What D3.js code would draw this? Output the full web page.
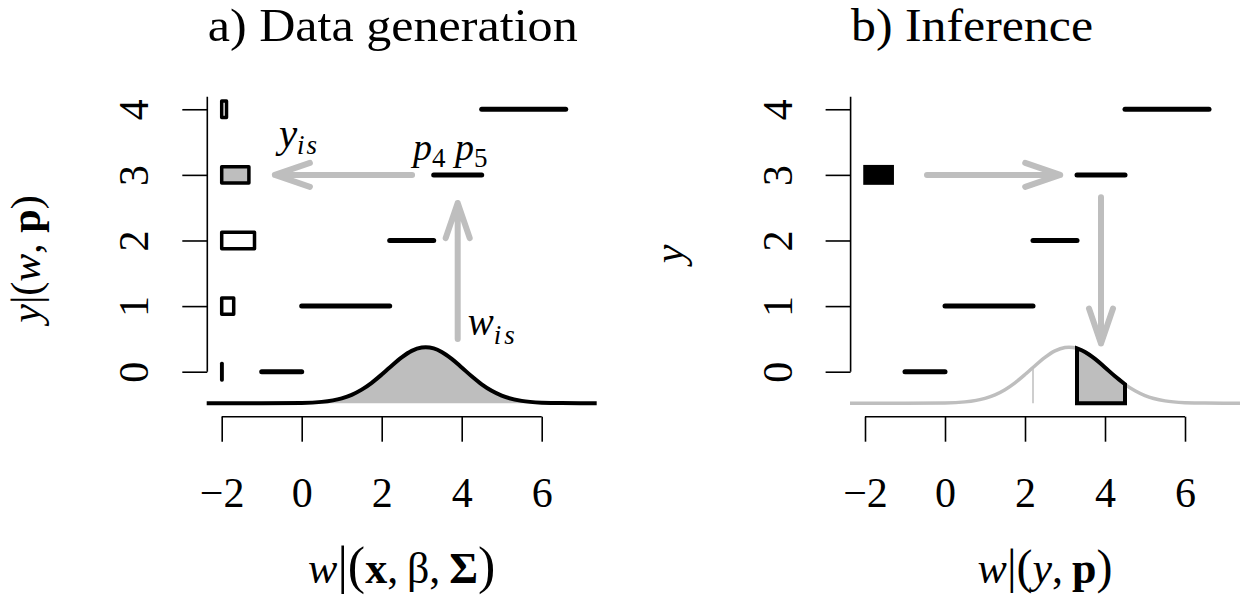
<!DOCTYPE html>
<html>
<head>
<meta charset="utf-8">
<script src="https://cdn.jsdelivr.net/npm/d3@7"></script>
<style>
body { margin: 0; background: #fff; }
svg { display: block; font-family: "Liberation Serif", "Times New Roman", serif; }
</style>
</head>
<body>
<svg id="chart" width="1246" height="607"></svg>
<script>
// ordinal outcome: categories, cut points p0..p5 and category probabilities
const categories = [0, 1, 2, 3, 4];
const cutPoints = [-1, 0, 2.2, 3.3, 4.5, 6.6];
const categoryProbs = [0.005, 0.15, 0.41, 0.34, 0.06];
const xTickValues = [-2, 0, 2, 4, 6];
const observedCategory = 3;
const latentMark = 2.2;

const densityW = [-2.375, -1, 0, 0.5, 1, 1.25, 1.5, 1.75, 2, 2.2, 2.5, 2.75, 3, 3.1,
  3.3, 3.5, 3.75, 4, 4.25, 4.5, 4.75, 5, 5.5, 6, 6.5, 7.375];
const densityValues = [0, 0, 0.002, 0.0099, 0.0365, 0.063, 0.1017, 0.153, 0.2149, 0.268, 0.344, 0.3923, 0.4176, 0.4199,
  0.4107, 0.3843, 0.3323, 0.268, 0.2018, 0.1417, 0.0929, 0.0568, 0.0173, 0.004, 0.0007, 0];

// arrows in (w, y) units
const arrowsA = [{ from: [2.76, 3], to: [-0.67, 3] }, { from: [3.9, 0.5], to: [3.9, 2.57] }];
const arrowsB = [{ from: [-0.45, 3], to: [2.88, 3] }, { from: [3.9, 2.66], to: [3.9, 0.43] }];

const titles = ["a) Data generation", "b) Inference"];

const serif = "Liberation Serif, Times New Roman, serif";
const gray = "#bebebe";
const density = densityW.map((w, i) => ({ w, v: densityValues[i] }));
const svg = d3.select("#chart");
svg.append("rect").attr("width", 1246).attr("height", 607).attr("fill", "#fff");

function richText(g, x, y, parts, size, anchor) {
  const t = g.append("text").attr("x", x).attr("y", y).attr("font-family", serif)
    .attr("font-size", size).attr("text-anchor", anchor || "start");
  let shift = 0;
  parts.forEach(p => {
    const s = t.append("tspan").text(p.t);
    if (p.i) s.attr("font-style", "italic");
    if (p.b) s.attr("font-weight", "bold");
    if (p.size) s.attr("font-size", p.size);
    if (p.ls) s.attr("letter-spacing", p.ls);
    const want = p.sub || 0;
    if (want !== shift) { s.attr("dy", want - shift); shift = want; }
  });
  return t;
}

function drawArrow(g, x, y, a) {
  const x0 = x(a.from[0]), y0 = y(a.from[1]), x1 = x(a.to[0]), y1 = y(a.to[1]);
  const len = Math.hypot(x1 - x0, y1 - y0);
  const ux = (x1 - x0) / len, uy = (y1 - y0) / len;
  const L = 35, H = 12;
  g.append("path")
    .attr("d", `M${x0},${y0}L${x1},${y1}M${x1 - L * ux - H * uy},${y1 - L * uy + H * ux}L${x1},${y1}L${x1 - L * ux + H * uy},${y1 - L * uy - H * ux}`)
    .attr("fill", "none").attr("stroke", gray).attr("stroke-width", 6)
    .attr("stroke-linecap", "round").attr("stroke-linejoin", "round");
}

function panel(k) {
  const left = [206.7, 850][k];
  const g = svg.append("g");
  const x = d3.scaleLinear().domain([-2.375, 7.375]).range([left, left + 390]);
  const y = d3.scaleLinear().domain([-0.48, 4.19]).range([403.2, 96.8]);
  const dens = d3.scaleLinear().domain([0, d3.max(densityValues)]).range([y(-0.48), y(-0.48) - 56]);

  // x axis
  const gx = g.append("g").attr("transform", "translate(0,416.7)")
    .call(d3.axisBottom(x).tickValues(xTickValues).tickSize(25).tickSizeOuter(0));
  gx.attr("font-family", serif).attr("font-size", 42);
  gx.select(".domain").remove();
  gx.append("line").attr("x1", x(-2)).attr("x2", x(6)).attr("stroke", "#000").attr("stroke-width", 1.6);
  gx.selectAll(".tick line").attr("stroke-width", 1.6);
  gx.selectAll(".tick text").attr("y", 90).attr("dy", null).attr("fill", "#000");

  // y axis
  const gy = g.append("g").attr("transform", `translate(${left + 0.6},0)`)
    .call(d3.axisLeft(y).tickValues(categories).tickFormat(d3.format("d")).tickSize(25).tickSizeOuter(0));
  gy.attr("font-family", serif).attr("font-size", 42);
  gy.select(".domain").remove();
  gy.append("line").attr("y1", y(0)).attr("y2", y(4.19)).attr("stroke", "#000").attr("stroke-width", 1.6);
  gy.selectAll(".tick line").attr("stroke-width", 1.6);
  gy.selectAll(".tick text").attr("x", 0).attr("dy", null).attr("text-anchor", "middle")
    .attr("fill", "#000").attr("transform", "translate(-59,0) rotate(-90)");

  // density
  const area = d3.area().x(d => x(d.w)).y0(dens(0)).y1(d => dens(d.v)).curve(d3.curveMonotoneX);
  const line = d3.line().x(d => x(d.w)).y(d => dens(d.v)).curve(d3.curveMonotoneX);
  const lo = cutPoints[observedCategory], hi = cutPoints[observedCategory + 1];

  if (k === 0) {
    g.append("path").datum(density).attr("d", area).attr("fill", gray);
    g.append("path").datum(density).attr("d", line).attr("fill", "none")
      .attr("stroke", "#000").attr("stroke-width", 4);
  } else {
    g.append("path").datum(density).attr("d", line).attr("fill", "none")
      .attr("stroke", gray).attr("stroke-width", 3.5);
    const vm = densityValues[densityW.indexOf(latentMark)];
    g.append("line").attr("x1", x(latentMark)).attr("x2", x(latentMark))
      .attr("y1", dens(0)).attr("y2", dens(vm)).attr("stroke", gray).attr("stroke-width", 1.5);
    g.append("path").datum(density.filter(d => d.w >= lo && d.w <= hi)).attr("d", area)
      .attr("fill", gray).attr("stroke", "#000").attr("stroke-width", 4).attr("stroke-linejoin", "miter");
  }

  // cut-point intervals
  g.selectAll(".seg").data(categories).join("line")
    .attr("x1", c => x(cutPoints[c])).attr("x2", c => x(cutPoints[c + 1]))
    .attr("y1", c => y(c)).attr("y2", c => y(c))
    .attr("stroke", "#000").attr("stroke-width", 5).attr("stroke-linecap", "round");

  // probability boxes
  const boxes = k === 0 ? categories : [observedCategory];
  g.selectAll(".box").data(boxes).join("rect")
    .attr("x", x(-2)).attr("width", c => x(-2 + categoryProbs[c] * 2) - x(-2))
    .attr("y", c => y(c + 0.125)).attr("height", c => y(c - 0.125) - y(c + 0.125))
    .attr("fill", c => k === 1 ? "#000" : (c === observedCategory ? gray : "#fff"))
    .attr("stroke", "#000").attr("stroke-width", 3.5)
    .attr("stroke-linejoin", k === 1 ? "miter" : "round");

  (k === 0 ? arrowsA : arrowsB).forEach(a => drawArrow(g, x, y, a));

  if (k === 0) {
    richText(g, x(-0.57), y(3.42), [{ t: "y", i: 1 }, { t: "is", i: 1, size: 27, sub: 7, ls: 2 }], 41);
    richText(g, x(2.78), y(3.23), [{ t: "p", i: 1 }, { t: "4", size: 27, sub: 7 },
      { t: " p", i: 1 }, { t: "5", size: 27, sub: 7 }], 38);
    richText(g, x(4.15), y(0.56), [{ t: "w", i: 1 }, { t: "is", i: 1, size: 27, sub: 9, ls: 3 }], 39);
  }

  // title
  g.append("text").attr("x", left + 1).attr("y", 41).attr("font-size", 46)
    .attr("font-family", serif).attr("textLength", [370, 242][k])
    .attr("lengthAdjust", "spacingAndGlyphs").text(titles[k]);

  // axis labels
  const cx = (x.range()[0] + x.range()[1]) / 2;
  const thin = "\u2009";
  if (k === 0) {
    richText(g, cx, 583, [{ t: "w", i: 1 }, { t: "|(", size: 52 }, { t: "x", b: 1 }, { t: "," + thin + "β," + thin },
      { t: "Σ", b: 1 }, { t: ")", size: 52 }], 44, "middle");
    const yl = g.append("g").attr("transform", `translate(${left - 167},259) rotate(-90)`);
    richText(yl, 0, 0, [{ t: "y", i: 1 }, { t: "|(" }, { t: "w", i: 1 }, { t: ", " }, { t: "p", b: 1 }, { t: ")" }], 42, "middle");
  } else {
    richText(g, cx, 583, [{ t: "w", i: 1 }, { t: "|(", size: 48 }, { t: "y", i: 1 }, { t: "," + thin },
      { t: "p", b: 1 }, { t: ")", size: 48 }], 44, "middle");
    const yl = g.append("g").attr("transform", `translate(${left - 167},254) rotate(-90)`);
    richText(yl, 0, 0, [{ t: "y", i: 1 }], 42, "middle");
  }
}

panel(0);
panel(1);
</script>
</body>
</html>
